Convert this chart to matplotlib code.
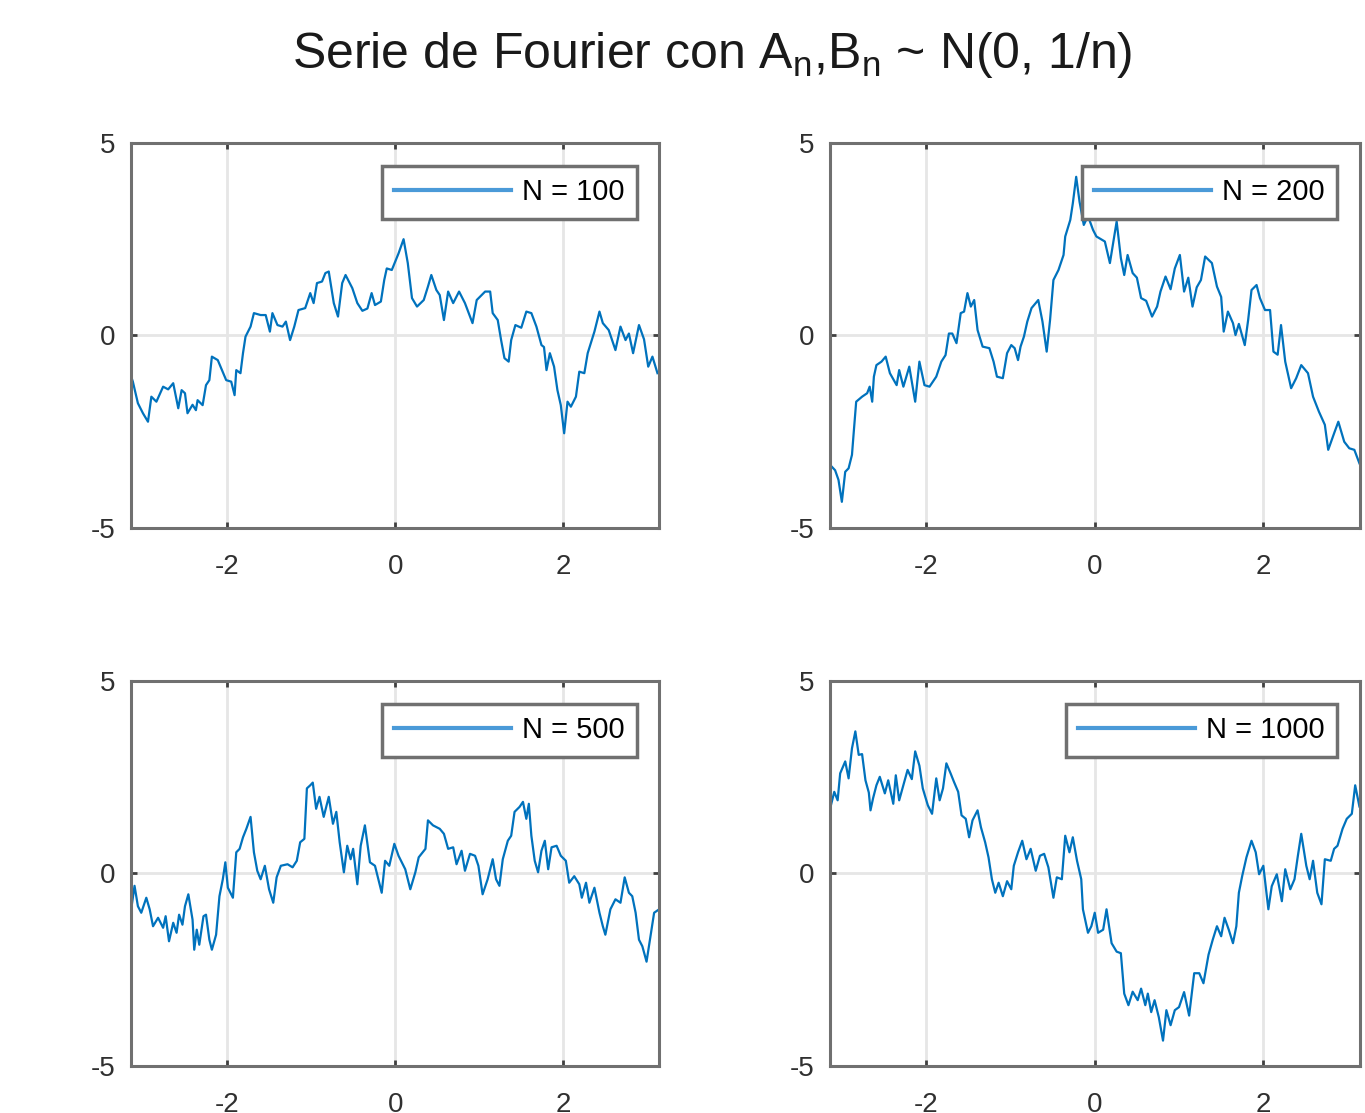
import matplotlib
matplotlib.use('Agg')
import matplotlib.pyplot as plt
import numpy as np

plt.rcParams['font.family'] = ['Liberation Sans', 'DejaVu Sans']
plt.rcParams['mathtext.fontset'] = 'custom'
plt.rcParams['mathtext.rm'] = 'Liberation Sans'
plt.rcParams['axes.unicode_minus'] = False

# valores (x en [-pi, pi])
x_100 = [-3.14, -3.12, -3.06, -3.00, -2.94, -2.90, -2.84, -2.76, -2.70, -2.64, -2.58, -2.54, -2.50, -2.47, -2.41,
         -2.37, -2.35, -2.29, -2.25, -2.21, -2.18, -2.11, -2.01, -1.95, -1.91, -1.89, -1.84, -1.81, -1.78, -1.72,
         -1.68, -1.60, -1.54, -1.49, -1.46, -1.40, -1.34, -1.30, -1.25, -1.20, -1.15, -1.07, -1.01, -0.97, -0.93,
         -0.87, -0.83, -0.79, -0.73, -0.68, -0.63, -0.59, -0.51, -0.45, -0.39, -0.33, -0.28, -0.24, -0.17, -0.13,
         -0.10, -0.04, 0.04, 0.10, 0.15, 0.20, 0.26, 0.34, 0.39, 0.43, 0.49, 0.53, 0.58, 0.63, 0.69, 0.76, 0.83,
         0.92, 0.97, 1.07, 1.13, 1.16, 1.22, 1.26, 1.30, 1.35, 1.38, 1.43, 1.50, 1.56, 1.62, 1.68, 1.74, 1.77, 1.80,
         1.84, 1.89, 1.93, 1.97, 2.01, 2.05, 2.09, 2.15, 2.19, 2.25, 2.29, 2.37, 2.43, 2.47, 2.54, 2.62, 2.68, 2.74,
         2.78, 2.83, 2.90, 2.96, 3.01, 3.06, 3.12]
y_100 = [-1.07, -1.20, -1.76, -2.02, -2.24, -1.59, -1.72, -1.33, -1.40, -1.24, -1.89, -1.42, -1.50, -2.02, -1.80,
         -1.94, -1.68, -1.81, -1.29, -1.16, -0.55, -0.64, -1.16, -1.20, -1.55, -0.90, -0.98, -0.46, -0.03, 0.23,
         0.58, 0.53, 0.53, 0.10, 0.58, 0.27, 0.23, 0.36, -0.12, 0.23, 0.66, 0.71, 1.10, 0.84, 1.36,
         1.40, 1.62, 1.66, 0.84, 0.49, 1.36, 1.57, 1.23, 0.84, 0.64, 0.70, 1.10, 0.79, 0.88, 1.44,
         1.74, 1.70, 2.13, 2.50, 1.88, 0.97, 0.75, 0.92, 1.27, 1.57, 1.18, 1.05, 0.40, 1.14, 0.84, 1.14, 0.84,
         0.32, 0.92, 1.14, 1.14, 0.58, 0.40, -0.12, -0.59, -0.68, -0.12, 0.27, 0.20, 0.62, 0.58, 0.23, -0.25, -0.30, -0.90,
         -0.46, -0.81, -1.42, -1.81, -2.54, -1.72, -1.85, -1.59, -0.94, -0.98, -0.46, 0.10, 0.62, 0.32, 0.14, -0.38, 0.23, -0.12,
         0.05, -0.46, 0.27, -0.10, -0.81, -0.55, -0.98]

x_200 = [-3.14, -3.08, -3.04, -3.00, -2.96, -2.92, -2.88, -2.86, -2.83, -2.76, -2.70, -2.67, -2.64, -2.62, -2.59,
         -2.53, -2.48, -2.43, -2.35, -2.32, -2.27, -2.20, -2.17, -2.13, -2.08, -2.02, -1.96, -1.88, -1.82, -1.77,
         -1.73, -1.69, -1.64, -1.59, -1.55, -1.51, -1.47, -1.43, -1.39, -1.33, -1.25, -1.20, -1.16, -1.09, -1.04,
         -0.99, -0.95, -0.91, -0.88, -0.84, -0.80, -0.75, -0.67, -0.62, -0.57, -0.53, -0.49, -0.43, -0.37, -0.35,
         -0.29, -0.26, -0.22, -0.18, -0.13, -0.08, -0.02, 0.02, 0.12, 0.18, 0.26, 0.31, 0.35, 0.39, 0.45, 0.50,
         0.55, 0.61, 0.68, 0.74, 0.78, 0.84, 0.90, 0.95, 1.01, 1.06, 1.11, 1.16, 1.21, 1.26, 1.31, 1.39, 1.45,
         1.50, 1.53, 1.58, 1.64, 1.67, 1.71, 1.78, 1.82, 1.86, 1.92, 1.96, 2.02, 2.08, 2.12, 2.17, 2.21, 2.26,
         2.33, 2.39, 2.45, 2.53, 2.59, 2.66, 2.73, 2.77, 2.84, 2.89, 2.96, 3.02, 3.08, 3.14]
y_200 = [-3.36, -3.50, -3.75, -4.32, -3.54, -3.45, -3.10, -2.54, -1.72, -1.59, -1.50, -1.33, -1.72, -1.07, -0.77,
         -0.68, -0.55, -0.98, -1.29, -0.90, -1.33, -0.81, -1.20, -1.72, -0.68, -1.29, -1.33, -1.07, -0.68, -0.51,
         0.05, 0.05, -0.20, 0.58, 0.62, 1.10, 0.75, 0.92, 0.14, -0.29, -0.33, -0.68, -1.07, -1.11, -0.46,
         -0.25, -0.33, -0.64, -0.29, -0.03, 0.36, 0.71, 0.92, 0.36, -0.42, 0.40, 1.44, 1.70, 2.09, 2.57,
         3.00, 3.43, 4.12, 3.47, 2.87, 3.10, 2.74, 2.57, 2.44, 1.88, 2.96, 2.01, 1.57, 2.09, 1.62, 1.50,
         0.97, 0.90, 0.49, 0.75, 1.14, 1.53, 1.20, 1.74, 2.09, 1.14, 1.50, 0.75, 1.25, 1.44, 2.05, 1.88, 1.27,
         1.00, 0.10, 0.62, 0.32, 0.01, 0.30, -0.25, 0.40, 1.18, 1.31, 0.97, 0.66, 0.66, -0.42, -0.50, 0.27, -0.68,
         -1.37, -1.11, -0.77, -0.98, -1.59, -1.98, -2.32, -2.97, -2.54, -2.24, -2.76, -2.93, -2.97, -3.32]

x_500 = [-3.14, -3.10, -3.06, -3.02, -2.96, -2.92, -2.88, -2.82, -2.76, -2.73, -2.69, -2.64, -2.60, -2.57, -2.53,
         -2.50, -2.46, -2.41, -2.39, -2.36, -2.33, -2.28, -2.25, -2.21, -2.18, -2.13, -2.09, -2.05, -2.02, -1.99,
         -1.93, -1.89, -1.85, -1.81, -1.77, -1.72, -1.68, -1.64, -1.60, -1.55, -1.50, -1.45, -1.41, -1.36, -1.28,
         -1.22, -1.17, -1.13, -1.08, -1.05, -1.01, -0.98, -0.94, -0.90, -0.85, -0.79, -0.74, -0.70, -0.66, -0.61,
         -0.57, -0.53, -0.50, -0.45, -0.41, -0.36, -0.30, -0.24, -0.20, -0.16, -0.12, -0.07, -0.01, 0.04, 0.12,
         0.18, 0.24, 0.28, 0.36, 0.39, 0.45, 0.53, 0.58, 0.63, 0.69, 0.73, 0.79, 0.83, 0.89, 0.95, 0.99, 1.04,
         1.10, 1.16, 1.20, 1.24, 1.28, 1.34, 1.38, 1.42, 1.48, 1.52, 1.56, 1.59, 1.62, 1.66, 1.70, 1.74, 1.78,
         1.82, 1.86, 1.92, 1.97, 2.03, 2.07, 2.13, 2.19, 2.22, 2.27, 2.31, 2.37, 2.43, 2.47, 2.50, 2.56, 2.62,
         2.68, 2.73, 2.78, 2.82, 2.86, 2.90, 2.94, 2.99, 3.03, 3.08, 3.14]
y_500 = [-0.93, -0.32, -0.85, -1.02, -0.63, -0.93, -1.37, -1.15, -1.41, -1.11, -1.76, -1.28, -1.54, -1.07, -1.33,
         -0.85, -0.54, -1.20, -1.98, -1.46, -1.85, -1.11, -1.07, -1.72, -1.98, -1.59, -0.59, -0.15, 0.29, -0.37,
         -0.63, 0.55, 0.64, 0.94, 1.16, 1.47, 0.55, 0.07, -0.15, 0.20, -0.41, -0.76, -0.10, 0.20, 0.24,
         0.16, 0.33, 0.81, 0.90, 2.21, 2.29, 2.36, 1.68, 1.99, 1.47, 1.99, 1.29, 1.60, 0.81, 0.03,
         0.72, 0.37, 0.64, -0.28, 0.72, 1.25, 0.29, 0.20, -0.15, -0.50, 0.33, 0.20, 0.77, 0.46, 0.11,
         -0.41, 0.03, 0.42, 0.64, 1.38, 1.25, 1.16, 1.03, 0.64, 0.68, 0.24, 0.59, 0.07, 0.51, 0.46, 0.20, -0.54,
         -0.15, 0.37, -0.15, -0.32, 0.37, 0.85, 0.98, 1.60, 1.73, 1.86, 1.42, 1.81, 0.98, 0.33, 0.03, 0.59, 0.85,
         0.11, 0.68, 0.72, 0.46, 0.33, -0.24, -0.07, -0.28, -0.63, -0.24, -0.76, -0.37, -1.02, -1.37, -1.59, -0.93, -0.67,
         -0.76, -0.10, -0.50, -0.59, -1.02, -1.72, -1.89, -2.29, -1.72, -1.02, -0.93]

x_1000 = [-3.14, -3.09, -3.05, -3.02, -2.96, -2.92, -2.88, -2.84, -2.80, -2.76, -2.72, -2.68, -2.66, -2.63, -2.59,
          -2.55, -2.49, -2.45, -2.39, -2.36, -2.32, -2.27, -2.22, -2.17, -2.13, -2.08, -2.04, -1.98, -1.93, -1.88,
          -1.84, -1.80, -1.76, -1.71, -1.67, -1.62, -1.58, -1.53, -1.49, -1.45, -1.39, -1.35, -1.30, -1.26, -1.22,
          -1.18, -1.14, -1.09, -1.04, -0.99, -0.96, -0.91, -0.86, -0.81, -0.76, -0.70, -0.65, -0.60, -0.55, -0.49,
          -0.45, -0.39, -0.35, -0.30, -0.26, -0.21, -0.16, -0.14, -0.08, -0.04, 0.00, 0.04, 0.10, 0.14, 0.20,
          0.26, 0.31, 0.35, 0.40, 0.45, 0.51, 0.55, 0.60, 0.63, 0.67, 0.71, 0.76, 0.81, 0.85, 0.90, 0.95, 1.00,
          1.06, 1.12, 1.18, 1.24, 1.29, 1.35, 1.40, 1.45, 1.50, 1.54, 1.59, 1.64, 1.68, 1.71, 1.75, 1.80, 1.86,
          1.91, 1.95, 2.00, 2.06, 2.10, 2.16, 2.22, 2.26, 2.32, 2.37, 2.41, 2.45, 2.51, 2.55, 2.59, 2.64, 2.69,
          2.73, 2.80, 2.84, 2.88, 2.94, 2.99, 3.05, 3.09, 3.14]
y_1000 = [1.68, 2.12, 1.90, 2.60, 2.91, 2.47, 3.25, 3.69, 3.08, 3.10, 2.42, 2.10, 1.64, 1.95, 2.29,
          2.51, 2.08, 2.42, 1.81, 2.55, 1.90, 2.29, 2.69, 2.45, 3.17, 2.80, 2.21, 1.77, 1.55, 2.47,
          1.90, 2.21, 2.86, 2.60, 2.38, 2.12, 1.51, 1.42, 0.94, 1.38, 1.64, 1.20, 0.81, 0.42, -0.15,
          -0.50, -0.24, -0.59, -0.20, -0.41, 0.20, 0.55, 0.85, 0.37, 0.64, 0.07, 0.46, 0.51, 0.16, -0.63,
          -0.10, -0.15, 0.98, 0.55, 0.94, 0.33, -0.15, -0.93, -1.54, -1.37, -1.02, -1.54, -1.46, -0.93, -1.81,
          -2.03, -2.07, -3.12, -3.42, -3.07, -3.29, -2.99, -3.42, -3.12, -3.60, -3.29, -3.73, -4.34, -3.55, -3.94, -3.55, -3.47,
          -3.08, -3.69, -2.59, -2.59, -2.85, -2.11, -1.72, -1.37, -1.63, -1.15, -1.46, -1.81, -1.37, -0.50, -0.06, 0.42, 0.85,
          0.55, -0.02, 0.20, -0.93, -0.33, -0.02, -0.72, 0.11, -0.41, -0.15, 0.46, 1.03, 0.20, -0.15, 0.33, -0.50, -0.80,
          0.37, 0.33, 0.64, 0.72, 1.16, 1.42, 1.55, 2.29, 1.74]

series = [(x_100, y_100, 'N = 100'), (x_200, y_200, 'N = 200'),
          (x_500, y_500, 'N = 500'), (x_1000, y_1000, 'N = 1000')]

azul = '#0072BD'
gris = '#707070'

fig = plt.figure(figsize=(13.65, 11.13), dpi=100)
posiciones = [[0.096, 0.5256, 0.387, 0.346], [0.608, 0.5256, 0.388, 0.346],
              [0.096, 0.0422, 0.387, 0.346], [0.608, 0.0422, 0.388, 0.346]]

for pos, (xs, ys, etiqueta) in zip(posiciones, series):
    ax = fig.add_axes(pos)
    ax.plot(xs, ys, color=azul, lw=1.6, label=etiqueta)
    ax.set_xlim(-np.pi, np.pi)
    ax.set_ylim(-5, 5)
    ax.set_xticks([-2, 0, 2])
    ax.set_yticks([-5, 0, 5])
    ax.grid(True, color='#e6e6e6', lw=2)
    ax.set_axisbelow(True)
    for s in ax.spines.values():
        s.set_color(gris)
        s.set_linewidth(2.2)
    ax.tick_params(direction='in', length=4, width=2, color='#404040',
                   top=True, right=True, labelsize=20, labelcolor='#303030')
    ax.tick_params(axis='x', pad=19)
    ax.tick_params(axis='y', pad=11)
    leg = ax.legend(loc='upper right', bbox_to_anchor=(0.958, 0.940), borderaxespad=0,
                    fontsize=21, handlelength=4.0, handletextpad=0.4, borderpad=0.42,
                    fancybox=False, framealpha=1)
    leg.get_frame().set_edgecolor(gris)
    leg.get_frame().set_linewidth(2.5)
    leg.get_lines()[0].set_color('#4a9ad8')
    leg.get_lines()[0].set_linewidth(3)

fig.text(0.522, 0.939, r'Serie de Fourier con A$_\mathregular{n}$,B$_\mathregular{n}$ ~ N(0, 1/n)',
         ha='center', va='baseline', fontsize=36, color='#1a1a1a')

fig.savefig('out.png', dpi=100)
